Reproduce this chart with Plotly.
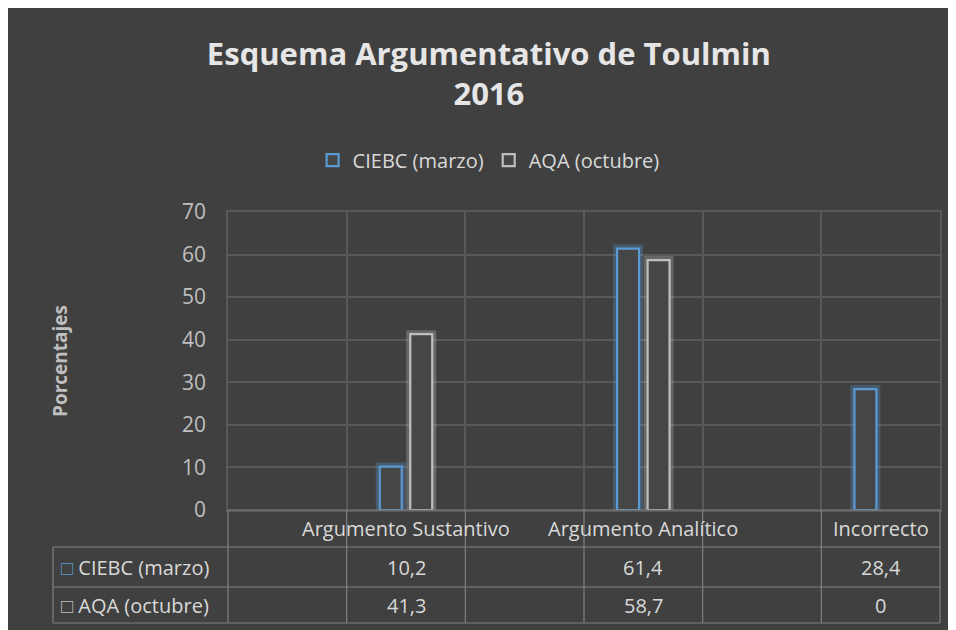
import plotly.graph_objects as go

# data (Excel chart with data table)
categories = ["", "Argumento Sustantivo", "", "Argumento Analítico", "", "Incorrecto"]
series_names = ["CIEBC (marzo)", "AQA (octubre)"]
ciebc = [None, 10.2, None, 61.4, None, 28.4]
aqa = [None, 41.3, None, 58.7, None, 0]
y_ticks = [0, 10, 20, 30, 40, 50, 60, 70]

BG = "#404040"
GRID = "#595959"
TABLE_LINE = "#808080"
TXT = "#d9d9d9"
FONT = "Open Sans, sans-serif"
colors = ["#5B9BD5", "#BFBFBF"]
glows = ["rgba(91,155,213,0.3)", "rgba(220,220,220,0.25)"]

xs = list(range(len(categories)))
series = [ciebc, aqa]

fig = go.Figure()
for i, (name, vals) in enumerate(zip(series_names, series)):
    bar_vals = [v if v else None for v in vals]  # Excel draws nothing for 0
    # soft glow behind the outlined bar
    fig.add_trace(go.Bar(
        x=xs, y=bar_vals, offsetgroup=str(i), showlegend=False, hoverinfo="skip",
        marker=dict(color="rgba(0,0,0,0)", line=dict(color=glows[i], width=8)),
    ))
    fig.add_trace(go.Bar(
        x=xs, y=bar_vals, name=name, offsetgroup=str(i),
        marker=dict(color="rgba(70,70,70,1)", line=dict(color=colors[i], width=2.2)),
    ))

# --- data table under the plot (paper coords: plot spans 0..1 in x) ---
ncat = len(categories)
row_y = [0, -0.1242, -0.2584, -0.3792]   # horizontal borders
left_x = -0.2458                          # left edge of series-name column
shapes = []
line = dict(color=TABLE_LINE, width=1.2)
shapes.append(dict(type="line", xref="paper", yref="paper", x0=0, x1=1, y0=row_y[0], y1=row_y[0], line=line))
for yy in row_y[1:]:
    shapes.append(dict(type="line", xref="paper", yref="paper", x0=left_x, x1=1, y0=yy, y1=yy, line=line))
for k in range(ncat + 1):
    xx = k / ncat
    shapes.append(dict(type="line", xref="paper", yref="paper", x0=xx, x1=xx, y0=row_y[0], y1=row_y[3], line=line))
shapes.append(dict(type="line", xref="paper", yref="paper", x0=left_x, x1=left_x, y0=row_y[1], y1=row_y[3], line=line))

TFONT = dict(size=20, color=TXT, family=FONT)
annotations = []
for i, cat in enumerate(categories):
    if cat:
        annotations.append(dict(x=i, xref="x", y=(row_y[0] + row_y[1]) / 2, yref="paper", text=cat,
                                xanchor="center", yanchor="middle", showarrow=False, font=TFONT))


def fmt(v):
    if v is None:
        return ""
    return f"{v:g}".replace(".", ",")


for r, (name, vals) in enumerate(zip(series_names, series)):
    yc = (row_y[r + 1] + row_y[r + 2]) / 2
    annotations.append(dict(x=left_x + 0.008, xref="paper", y=yc, yref="paper", xanchor="left",
                            yanchor="middle", text=f"<span style='color:{colors[r]}'>□</span> {name}",
                            showarrow=False, font=TFONT))
    for i, v in enumerate(vals):
        if v is not None:
            annotations.append(dict(x=i, xref="x", y=yc, yref="paper", text=fmt(v),
                                    xanchor="center", yanchor="middle", showarrow=False, font=TFONT))

# y axis title placed as rotated text
annotations.append(dict(x=-0.236, xref="paper", y=0.5, yref="paper", text="<b>Porcentajes</b>",
                        xanchor="center", yanchor="middle", textangle=-90, showarrow=False,
                        font=dict(size=19, color="#bfbfbf", family=FONT)))

fig.update_layout(
    width=956, height=630, autosize=False,
    paper_bgcolor=BG, plot_bgcolor=BG,
    margin=dict(l=220, r=24, t=204, b=128, autoexpand=False),
    font=dict(family=FONT, color=TXT),
    title=dict(text="Esquema Argumentativo de Toulmin<br>2016", x=0.503, xanchor="center",
               y=0.91, yanchor="top", font=dict(size=31, color="#e6e6e6", family=FONT, weight="bold")),
    barmode="group", bargap=0.486, bargroupgap=0.28,
    legend=dict(orientation="h", x=0.366, xanchor="center", y=1.174, yanchor="middle",
                font=dict(size=20, color=TXT, family=FONT), bgcolor="rgba(0,0,0,0)",
                itemwidth=30, traceorder="normal"),
    shapes=shapes, annotations=annotations,
    showlegend=True,
)
fig.update_xaxes(range=[-0.5, ncat - 0.5], tick0=-0.5, dtick=1, showticklabels=False,
                 showgrid=True, gridcolor=GRID, gridwidth=1.5, zeroline=False,
                 showline=True, mirror=True, linecolor=GRID, linewidth=1.5)
fig.update_yaxes(range=[0, 70], tickvals=y_ticks, showgrid=True, gridcolor=GRID, gridwidth=1.5,
                 zeroline=False, showline=True, mirror=True, linecolor=GRID, linewidth=1.5,
                 tickfont=dict(size=21, color="#bfbfbf", family=FONT), ticklabelstandoff=16)

fig.write_html("out.html")
